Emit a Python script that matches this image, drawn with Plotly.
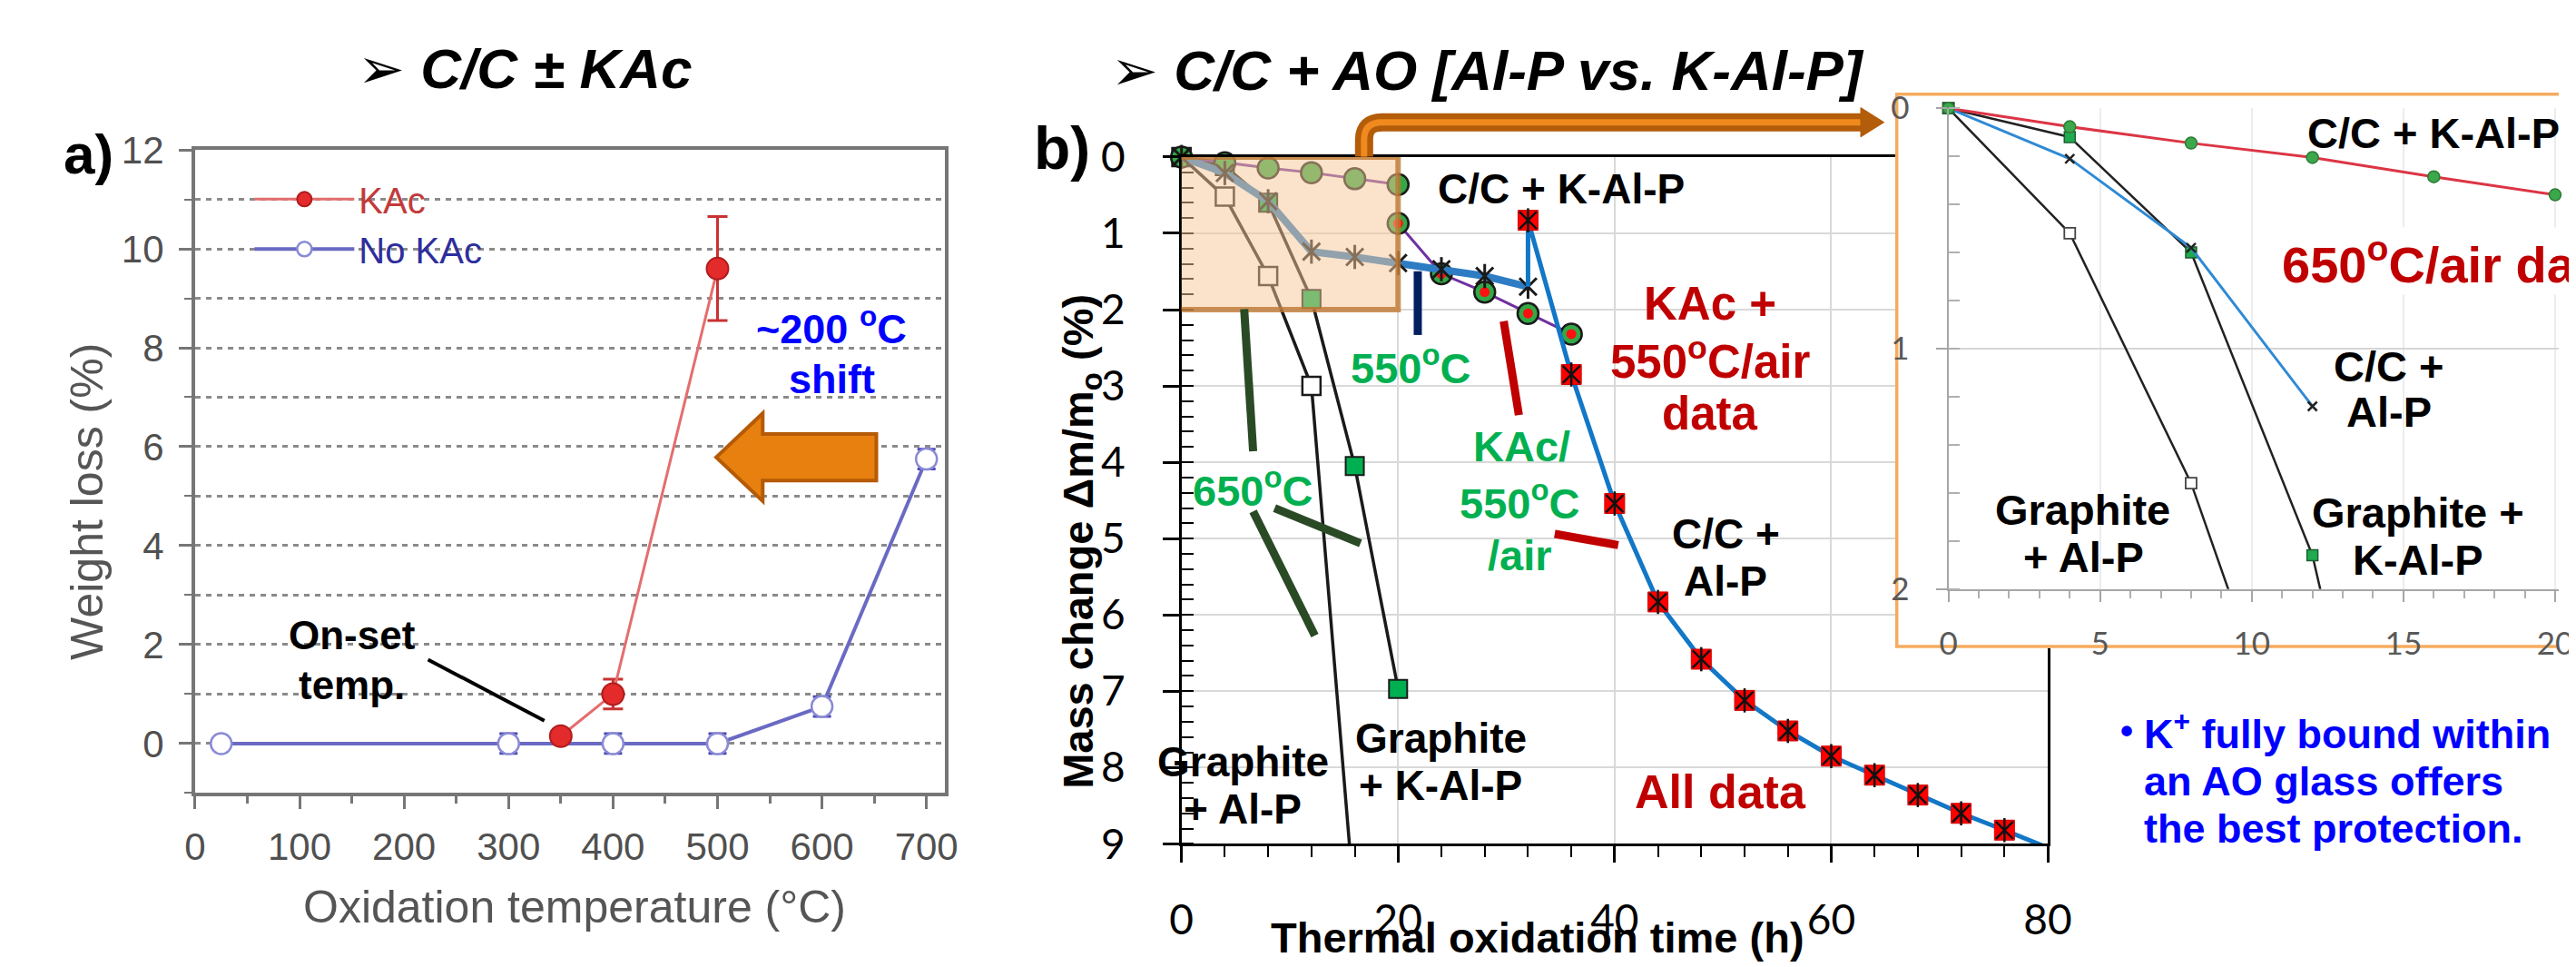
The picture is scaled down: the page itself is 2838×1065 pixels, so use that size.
import plotly.graph_objects as go

W, H = 2838, 1065

# ---------------- data: panel a (weight loss vs temperature) ----------------
temp_kac = [350, 400, 500]
loss_kac = [0.15, 1.0, 9.6]
err_kac = [0.05, 0.3, 1.05]
temp_nokac = [25, 300, 400, 500, 600, 700]
loss_nokac = [0.0, 0.0, 0.0, 0.0, 0.75, 5.75]
err_nokac = [None, 0.2, 0.2, 0.2, 0.2, 0.2]

# ---------------- data: panel b (mass change vs time) ----------------
t_cc_kalp = [0, 4, 8, 12, 16, 20]
cc_kalp = [0.0, 0.077, 0.145, 0.205, 0.285, 0.36]
t_kac550 = [20, 24, 28, 32, 36]
kac550 = [0.87, 1.53, 1.77, 2.05, 2.32]
t_cc_alp = [0, 4, 8, 12, 16, 20, 24, 28, 32]
cc_alp = [0.0, 0.21, 0.58, 1.24, 1.31, 1.39, 1.47, 1.56, 1.70]
n_650_alp = 4  # first C/C + Al-P points (650 C) shown in the inset
t_gr_alp = [0, 4, 8, 12, 16]
gr_alp = [0.0, 0.52, 1.56, 3.0, 9.85]
t_gr_kalp = [0, 4, 8, 12, 16, 20]
gr_kalp = [0.0, 0.12, 0.60, 1.86, 4.05, 6.97]
t_all = [32, 32, 36, 40, 44, 48, 52, 56, 60, 64, 68, 72, 76, 80]
all_data = [1.70, 0.83, 2.85, 4.54, 5.83, 6.58, 7.12, 7.52, 7.85, 8.10, 8.36, 8.60, 8.82, 9.05]

ARIAL = "Liberation Sans, Arial, DejaVu Sans, sans-serif"
CAL = "Lato, Carlito, Open Sans, sans-serif"

B_XMAX, B_YMAX = 80, 9
I_XMAX, I_YMAX = 20.12, 2


def X(p):
    return p / W


def Y(p):
    return 1 - p / H


def filt(xs, ys, xmax, ymax):
    keep = [(a, b) for a, b in zip(xs, ys) if a <= xmax and b <= ymax]
    return [k[0] for k in keep], [k[1] for k in keep]


fig = go.Figure()

# ======================= panel a =======================
fig.add_trace(go.Scatter(
    x=temp_nokac, y=loss_nokac, mode="lines+markers", legendrank=2,
    name="<span style='color:#2e2e9c'>No KAc</span>",
    line=dict(color="#6a6ac4", width=4),
    marker=dict(symbol="circle", size=23, color="white", line=dict(color="#8a8ad6", width=2.5)),
    error_y=dict(type="data", array=err_nokac, color="#4848b4", thickness=3, width=10),
    xaxis="x", yaxis="y", cliponaxis=False))
fig.add_trace(go.Scatter(
    x=temp_kac, y=loss_kac, mode="lines+markers", legendrank=1,
    name="<span style='color:#c23a3a'>KAc</span>",
    line=dict(color="#e46e6e", width=3),
    marker=dict(symbol="circle", size=24, color="#e32b2b", line=dict(color="#b01c1c", width=2)),
    error_y=dict(type="data", array=err_kac, color="#c83232", thickness=3, width=11),
    xaxis="x", yaxis="y", cliponaxis=False))

# ======================= panel b =======================
bx = dict(xaxis="x2", yaxis="y2", showlegend=False, hoverinfo="skip")
# graphite + Al-P
fig.add_trace(go.Scatter(x=t_gr_alp, y=gr_alp, mode="lines", line=dict(color="#1a1a1a", width=3.5), **bx))
mx, my = filt(t_gr_alp, gr_alp, B_XMAX, B_YMAX)
fig.add_trace(go.Scatter(x=mx, y=my, mode="markers", cliponaxis=False,
                         marker=dict(symbol="square", size=20, color="white", line=dict(color="#1a1a1a", width=2.5)), **bx))
# graphite + K-Al-P
fig.add_trace(go.Scatter(x=t_gr_kalp, y=gr_kalp, mode="lines", line=dict(color="#1a1a1a", width=3.5), **bx))
mx, my = filt(t_gr_kalp, gr_kalp, B_XMAX, B_YMAX)
fig.add_trace(go.Scatter(x=mx, y=my, mode="markers", cliponaxis=False,
                         marker=dict(symbol="square", size=20, color="#00b050", line=dict(color="#1a1a1a", width=2)), **bx))
# C/C + K-Al-P (650)
fig.add_trace(go.Scatter(x=t_cc_kalp, y=cc_kalp, mode="lines", line=dict(color="#7030a0", width=3), **bx))
fig.add_trace(go.Scatter(x=t_cc_kalp, y=cc_kalp, mode="markers", cliponaxis=False,
                         marker=dict(symbol="circle", size=23, color="#33a846", line=dict(color="#1a1a1a", width=2.5)), **bx))
# KAc / 550 C / air
fig.add_trace(go.Scatter(x=t_kac550, y=kac550, mode="lines", line=dict(color="#7030a0", width=3), **bx))
fig.add_trace(go.Scatter(x=t_kac550, y=kac550, mode="markers", cliponaxis=False,
                         marker=dict(symbol="circle", size=23, color="#33a846", line=dict(color="#1a1a1a", width=2.5)), **bx))
fig.add_trace(go.Scatter(x=t_kac550, y=kac550, mode="markers", cliponaxis=False,
                         marker=dict(symbol="circle", size=11, color="#ff1010", line=dict(width=0)), **bx))
# C/C + Al-P (thick blue)
fig.add_trace(go.Scatter(x=t_cc_alp, y=cc_alp, mode="lines", line=dict(color="#2e7cc3", width=8), **bx))
for sym in ["x-thin-open", "line-ns-open"]:
    fig.add_trace(go.Scatter(x=t_cc_alp, y=cc_alp, mode="markers", cliponaxis=False,
                             marker=dict(symbol=sym, size=19, color="#1a1a1a", line=dict(color="#1a1a1a", width=3)), **bx))
# all data (thin blue + red squares)
fig.add_trace(go.Scatter(x=t_all, y=all_data, mode="lines", line=dict(color="#1277c6", width=5), **bx))
mx, my = filt(t_all[1:], all_data[1:], B_XMAX, B_YMAX)
fig.add_trace(go.Scatter(x=mx, y=my, mode="markers", cliponaxis=False,
                         marker=dict(symbol="square", size=22, color="#ff0000", line=dict(color="#d00000", width=1)), **bx))
for sym in ["x-thin-open", "line-ns-open"]:
    fig.add_trace(go.Scatter(x=mx, y=my, mode="markers", cliponaxis=False,
                             marker=dict(symbol=sym, size=19, color="#111", line=dict(color="#111", width=2.5)), **bx))

# blank subplot that holds the inset frame (covers panel b underneath)
fig.add_trace(go.Scatter(x=[], y=[], xaxis="x3", yaxis="y3", showlegend=False, hoverinfo="skip"))

# ======================= inset =======================
ix = dict(xaxis="x4", yaxis="y4", showlegend=False, hoverinfo="skip")
fig.add_trace(go.Scatter(x=t_gr_alp, y=gr_alp, mode="lines", line=dict(color="#222", width=2.5), **ix))
mx, my = filt(t_gr_alp, gr_alp, I_XMAX, I_YMAX)
fig.add_trace(go.Scatter(x=mx, y=my, mode="markers", cliponaxis=False,
                         marker=dict(symbol="square", size=12, color="white", line=dict(color="#444", width=1.8)), **ix))
fig.add_trace(go.Scatter(x=t_gr_kalp, y=gr_kalp, mode="lines", line=dict(color="#222", width=2.5), **ix))
mx, my = filt(t_gr_kalp, gr_kalp, I_XMAX, I_YMAX)
fig.add_trace(go.Scatter(x=mx, y=my, mode="markers", cliponaxis=False,
                         marker=dict(symbol="square", size=12, color="#1faa4f", line=dict(color="#1d5e33", width=1.5)), **ix))
fig.add_trace(go.Scatter(x=t_cc_alp[:n_650_alp], y=cc_alp[:n_650_alp], mode="lines+markers", cliponaxis=False,
                         line=dict(color="#2f8ad4", width=3),
                         marker=dict(symbol="x-thin-open", size=10, color="#222", line=dict(color="#222", width=2.5)), **ix))
fig.add_trace(go.Scatter(x=t_cc_kalp, y=cc_kalp, mode="lines", line=dict(color="#dc3545", width=3), **ix))
mx, my = filt(t_cc_kalp, cc_kalp, I_XMAX, I_YMAX)
fig.add_trace(go.Scatter(x=mx, y=my, mode="markers", cliponaxis=False,
                         marker=dict(symbol="circle", size=13, color="#3aa84b", line=dict(color="#2d7a36", width=1.5)), **ix))

# ======================= axes =======================
GA = "#767676"
fig.update_layout(
    xaxis=dict(domain=[X(196.7), X(1035)], range=[0, 718], anchor="y", showline=True, linecolor=GA,
               linewidth=4, mirror=True, ticks="outside", ticklen=14, tickwidth=3, tickcolor=GA, tick0=0,
               dtick=100, minor=dict(ticks="outside", ticklen=8, tickwidth=2.5, tickcolor=GA, dtick=50),
               showgrid=False, zeroline=False, tickfont=dict(family=ARIAL, size=42, color="#505050"),
               ticklabelstandoff=5),
    yaxis=dict(domain=[Y(882), Y(135)], range=[-1, 12], anchor="x", showline=True, linecolor=GA,
               linewidth=4, mirror=True, ticks="outside", ticklen=14, tickwidth=3, tickcolor=GA, tick0=0,
               dtick=2, showgrid=True, gridcolor="#8a8a8a", gridwidth=2.5, griddash="6px,6px",
               minor=dict(dtick=1, showgrid=True, gridcolor="#8a8a8a", gridwidth=2.5, griddash="6px,6px",
                          ticks="outside", ticklen=8, tickwidth=2, tickcolor=GA),
               zeroline=False, tickfont=dict(family=ARIAL, size=42, color="#505050"), ticklabelstandoff=8),
    xaxis2=dict(domain=[X(1299), X(2267)], range=[0, 80], anchor="y2", dtick=20, tick0=0, showgrid=True,
                gridcolor="#d9d9d9", gridwidth=2, showline=True, linecolor="black", linewidth=2.5, mirror=True,
                ticks="outside", ticklen=18, tickwidth=2.5, tickcolor="black",
                minor=dict(ticks="outside", ticklen=12, tickwidth=2, tickcolor="black", dtick=4, showgrid=False),
                zeroline=False, tickfont=dict(family=CAL, size=46, color="black"), ticklabelstandoff=24),
    yaxis2=dict(domain=[Y(941), Y(143.3)], range=[9, 0], anchor="x2", dtick=1, tick0=0, showgrid=True,
                gridcolor="#d9d9d9", gridwidth=2, showline=True, linecolor="black", linewidth=2.5, mirror=True,
                ticks="outside", ticklen=18, tickwidth=2.5, tickcolor="black",
                minor=dict(ticks="inside", ticklen=14, tickwidth=2, tickcolor="black", dtick=0.2, showgrid=False),
                zeroline=False, tickfont=dict(family=CAL, size=46, color="black"), ticklabelstandoff=32),
    xaxis5=dict(overlaying="x2", anchor="y2", range=[0, 80], dtick=20, tick0=0, ticks="inside", ticklen=18,
                tickwidth=2.5, tickcolor="black", showticklabels=False, showgrid=False, showline=False,
                zeroline=False),
    yaxis5=dict(overlaying="y2", anchor="x2", range=[9, 0], dtick=1, tick0=0, ticks="inside", ticklen=18,
                tickwidth=2.5, tickcolor="black", showticklabels=False, showgrid=False, showline=False,
                zeroline=False),
    xaxis3=dict(domain=[X(2096.5), 1.0], range=[0, 1], anchor="y3", showline=False, showgrid=False,
                zeroline=False, showticklabels=False, ticks="", fixedrange=True),
    yaxis3=dict(domain=[Y(713.5), Y(68.5)], range=[0, 1], anchor="x3", showline=False, showgrid=False,
                zeroline=False, showticklabels=False, ticks="", fixedrange=True),
    xaxis4=dict(domain=[X(2156), 1.0], range=[0, I_XMAX], anchor="y4", dtick=5, tick0=0, showgrid=True,
                gridcolor="#ececec", gridwidth=2,
                showline=True, linecolor="#a6a6a6", linewidth=2, ticks="outside", ticklen=12, tickwidth=2,
                tickcolor="#a6a6a6",
                minor=dict(ticks="outside", ticklen=8, tickwidth=1.5, tickcolor="#b0b0b0", dtick=1),
                zeroline=False, tickfont=dict(family=CAL, size=35, color="#595959"), ticklabelstandoff=16),
    yaxis4=dict(domain=[Y(645), Y(86.7)], range=[2, 0], anchor="x4", dtick=1, tick0=0, showgrid=True,
                gridcolor="#d6d6d6", gridwidth=2, showline=True, linecolor="#a6a6a6", linewidth=2,
                ticks="outside", ticklen=12, tickwidth=2, tickcolor="#a6a6a6",
                minor=dict(ticks="inside", ticklen=12, tickwidth=1.5, tickcolor="#b0b0b0", dtick=0.2),
                zeroline=False, tickfont=dict(family=CAL, size=35, color="#595959"), ticklabelstandoff=22),
)

# ======================= shapes =======================
shapes = []


def pline(x0, y0, x1, y1, color, width):
    shapes.append(dict(type="line", xref="paper", yref="paper", x0=X(x0), y0=Y(y0), x1=X(x1), y1=Y(y1),
                       line=dict(color=color, width=width), layer="above"))


def ppath(pts):
    return "M " + " L ".join(f"{X(a):.5f},{Y(b):.5f}" for a, b in pts) + " Z"


# panel a: big orange arrow pointing left
shapes.append(dict(type="path", xref="paper", yref="paper", layer="above",
                   path=ppath([(779, 492), (831, 441), (831, 465), (958, 465), (958, 519), (831, 519), (831, 543)]),
                   fillcolor="#e8800f", line=dict(color="#b55a06", width=4)))
# panel a: on-set pointer
pline(457, 727, 587, 798, "black", 4)

# panel b: shaded zoom box (above traces)
shapes.append(dict(type="rect", xref="x2", yref="y2", x0=-0.5, x1=20, y0=0, y1=2, layer="above",
                   fillcolor="rgba(245,200,150,0.5)", line=dict(width=0)))
shapes.append(dict(type="rect", xref="x2", yref="y2", x0=-0.5, x1=20, y0=0, y1=2, layer="above",
                   fillcolor="rgba(0,0,0,0)", line=dict(color="rgba(190,120,50,0.8)", width=6)))

# connector arrow from box to inset
conn = (f"M {X(1503):.5f},{Y(143):.5f} L {X(1503):.5f},{Y(123):.5f} "
        f"Q {X(1503):.5f},{Y(103):.5f} {X(1523):.5f},{Y(103):.5f} L {X(2064):.5f},{Y(103):.5f}")
shapes.append(dict(type="path", xref="paper", yref="paper", layer="above", path=conn,
                   line=dict(color="#b35c0a", width=20)))
shapes.append(dict(type="path", xref="paper", yref="paper", layer="above", path=conn,
                   line=dict(color="#f08a1e", width=7)))
shapes.append(dict(type="path", xref="paper", yref="paper", layer="above",
                   path=ppath([(2058, 86), (2084, 103), (2058, 120)]),
                   fillcolor="#b35c0a", line=dict(color="#b35c0a", width=1)))

# panel b pointer strokes
pline(1563, 276, 1563, 350, "#002060", 9)
pline(1659, 334, 1676, 443, "#c00000", 9)
pline(1716, 581, 1787, 594, "#c00000", 9)
pline(1369, 320, 1379, 485, "#2a4a26", 9)
pline(1403, 551, 1499, 592, "#2a4a26", 9)
pline(1379, 555, 1448, 699, "#2a4a26", 9)

# inset orange frame (in blank subplot x3/y3)
shapes.append(dict(type="rect", xref="x3", yref="y3", x0=0, x1=1.05, y0=0, y1=1, layer="below",
                   fillcolor="white", line=dict(color="#f5ab5e", width=7)))

fig.update_layout(shapes=shapes)

# ======================= annotations =======================
ann = []


def txt(x, y, s, size, color="black", bold=True, italic=False, angle=0, xanchor="center", family=ARIAL,
        bg=None):
    t = s
    if bold:
        t = f"<b>{t}</b>"
    if italic:
        t = f"<i>{t}</i>"
    d = dict(x=X(x), y=Y(y), xref="paper", yref="paper", text=t, showarrow=False, textangle=angle,
             xanchor=xanchor, yanchor="middle", font=dict(family=family, size=size, color=color))
    if bg:
        d["bgcolor"] = bg
    ann.append(d)


# panel a texts
txt(565, 41, "➢ C/C ± KAc", 62, italic=True)
txt(78, 140, "a)", 62)
txt(908, 340, "~200 <sup>o</sup>C", 45, color="#0000ff")
txt(908, 401, "shift", 45, color="#0000ff")
txt(372, 699, "On-set", 44)
txt(372, 757, "temp.", 44)
txt(76, 543, "Weight loss (%)", 50, color="#555", bold=False, angle=-90)
txt(621, 1014, "Oxidation temperature (°C)", 50, color="#555", bold=False)

# panel b texts
txt(1641, 43, "➢ C/C + AO [Al-P vs. K-Al-P]", 62, italic=True)
txt(1165, 133, "b)", 66)
txt(1186, 590, "Mass change Δm/m<sub>o</sub> (%)", 47, angle=-90)
txt(1697, 1050, "Thermal oxidation time (h)", 47)
txt(1723, 180, "C/C + K-Al-P", 46)
GREEN = "#00b050"
DRED = "#c00000"
txt(1555, 385, "550<sup>o</sup>C", 47, color=GREEN)
txt(1378, 527, "650<sup>o</sup>C", 47, color=GREEN)
txt(1890, 314, "KAc +", 51, color=DRED)
txt(1890, 378, "550<sup>o</sup>C/air", 51, color=DRED)
txt(1890, 441, "data", 51, color=DRED)
txt(1679, 479, "KAc/", 47, color=GREEN)
txt(1677, 542, "550<sup>o</sup>C", 47, color=GREEN)
txt(1677, 606, "/air", 47, color=GREEN)
txt(1907, 581, "C/C +", 46)
txt(1907, 636, "Al-P", 46)
txt(1589, 818, "Graphite", 46)
txt(1588, 873, "+ K-Al-P", 46)
txt(1368, 846, "Graphite", 46)
txt(1367, 900, "+ Al-P", 46)
txt(1901, 880, "All data", 52, color=DRED)

# inset texts
txt(2555, 115, "C/C + K-Al-P", 47, xanchor="left")
txt(2527, 264, "650<sup>o</sup>C/air data", 56, color=DRED, xanchor="left", bg="white")
txt(2648, 386, "C/C +", 47)
txt(2648, 439, "Al-P", 47)
txt(2306, 553, "Graphite", 47)
txt(2307, 608, "+ Al-P", 47)
txt(2681, 556, "Graphite +", 47)
txt(2681, 611, "K-Al-P", 47)

# bottom-right message
BLUE = "#0000ff"
txt(2355, 810, "•", 40, color=BLUE)
txt(2372, 810, "K<sup>+</sup> fully bound within", 45, color=BLUE, xanchor="left")
txt(2372, 868, "an AO glass offers", 45, color=BLUE, xanchor="left")
txt(2372, 923, "the best protection.", 45, color=BLUE, xanchor="left")

fig.update_layout(
    annotations=ann,
    width=W, height=H, autosize=False,
    margin=dict(l=0, r=0, t=0, b=0, pad=0),
    paper_bgcolor="white", plot_bgcolor="white",
    hovermode=False,
    showlegend=True,
    legend=dict(x=X(258), y=Y(158), xanchor="left", yanchor="top", bgcolor="rgba(0,0,0,0)",
                font=dict(family=ARIAL, size=40, color="#444"), itemwidth=110, tracegroupgap=0),
)

fig.write_html("out.html", config={"displayModeBar": False})
